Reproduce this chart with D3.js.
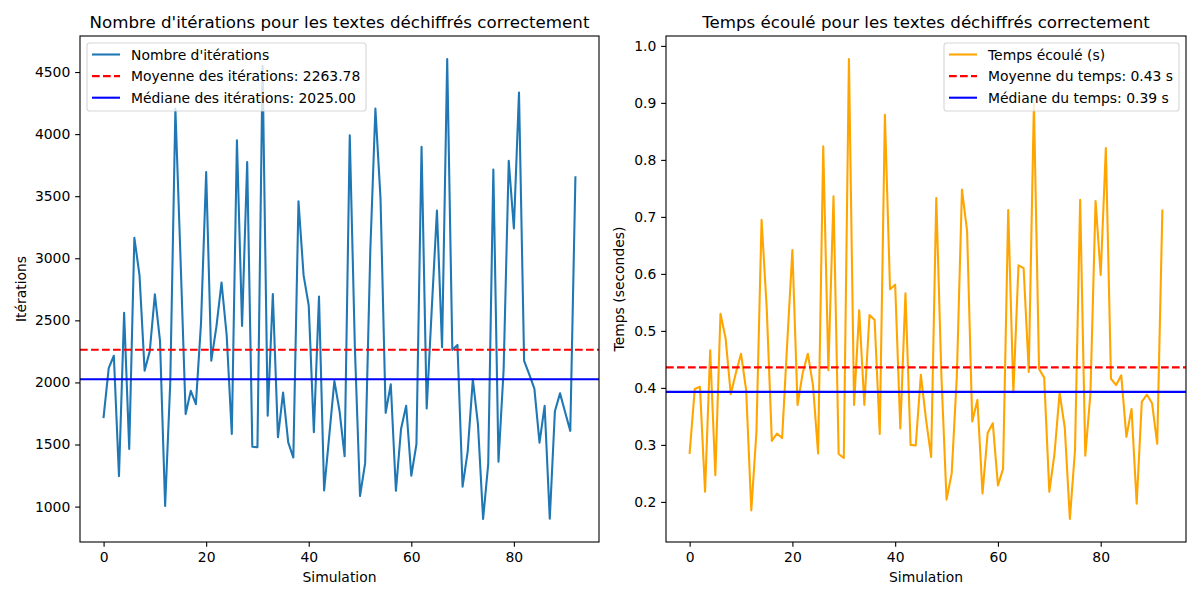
<!DOCTYPE html>
<html><head><meta charset="utf-8">
<script src="https://cdn.jsdelivr.net/npm/d3@7"></script>
<style>body{margin:0;background:#fff}svg{display:block}text{font-family:"DejaVu Sans",sans-serif;fill:#000}</style>
</head><body><svg id="c" width="1200" height="600"></svg>
<script>
const simulations = d3.range(93);
const iterations = [1720,2115,2215,1245,2560,1465,3165,2865,2095,2250,
 2710,2335,1005,2000,4205,3000,1745,1932,1825,2480,
 3695,2175,2450,2805,2380,1585,3950,2455,3775,1482,
 1478,4550,1732,2712,1558,1918,1517,1395,3458,2862,
 2620,1600,2692,1130,1570,2012,1772,1405,3990,2280,
 1085,1350,3050,4205,3480,1755,1985,1127,1625,1812,
 1248,1502,3898,1790,2600,3385,2283,4605,2262,2302,
 1160,1445,2025,1662,900,1343,3715,1362,2100,3785,
 3240,4335,2173,2065,1950,1515,1812,902,1768,1912,
 1760,1610,3652];
const times = [0.286,0.398,0.402,0.218,0.466,0.247,0.530,0.487,0.389,0.426,
 0.460,0.396,0.185,0.323,0.695,0.540,0.307,0.320,0.312,0.480,
 0.642,0.370,0.426,0.460,0.405,0.285,0.824,0.431,0.736,0.284,
 0.277,0.977,0.370,0.536,0.370,0.528,0.519,0.319,0.879,0.573,
 0.581,0.329,0.566,0.300,0.299,0.423,0.345,0.279,0.733,0.420,
 0.204,0.250,0.420,0.748,0.675,0.341,0.379,0.215,0.321,0.338,
 0.229,0.258,0.712,0.392,0.615,0.610,0.428,0.900,0.433,0.418,
 0.218,0.284,0.391,0.331,0.170,0.291,0.730,0.281,0.390,0.728,
 0.598,0.821,0.416,0.405,0.422,0.314,0.363,0.197,0.376,0.388,
 0.373,0.302,0.711];
const meanIter = 2263.78, medianIter = 2025.00;
const meanTime = 0.436, medianTime = 0.393;
const xTicks = [0,20,40,60,80];
const iterTicks = [1000,1500,2000,2500,3000,3500,4000,4500];
const timeTicks = [0.2,0.3,0.4,0.5,0.6,0.7,0.8,0.9,1.0];
const titles = ["Nombre d'itérations pour les textes déchiffrés correctement","Temps écoulé pour les textes déchiffrés correctement"];
const yLabels = ["Itérations","Temps (secondes)"];
const xLabel = "Simulation";
const legendIter = ["Nombre d'itérations","Moyenne des itérations: 2263.78","Médiane des itérations: 2025.00"];
const legendTime = ["Temps écoulé (s)","Moyenne du temps: 0.43 s","Médiane du temps: 0.39 s"];

const svg = d3.select("#c");
const FS = 13.9, LW = 2.08, TICK = 4.86;

function panel(cfg){
  const {x0,x1,y0,y1,data,color,mean,median,yTicks,fmt,title,ylab,ylabX,legend,legendRight} = cfg;
  const g = svg.append("g");
  const pad = (d) => { const [a,b]=d3.extent(d); const m=(b-a)*0.05; return [a-m,b+m]; };
  const x = d3.scaleLinear().domain(pad(simulations)).range([x0,x1]);
  const y = d3.scaleLinear().domain(pad(data)).range([y1,y0]);
  const clipId = "clip"+x0;
  svg.append("clipPath").attr("id",clipId).append("rect").attr("x",x0).attr("y",y0).attr("width",x1-x0).attr("height",y1-y0);
  const plot = g.append("g").attr("clip-path",`url(#${clipId})`);
  plot.append("path").datum(data).attr("fill","none").attr("stroke",color).attr("stroke-width",LW)
    .attr("stroke-linejoin","round").attr("stroke-linecap","square")
    .attr("d",d3.line().x((d,i)=>x(simulations[i])).y(d=>y(d)));
  plot.append("line").attr("x1",x0).attr("x2",x1).attr("y1",y(mean)).attr("y2",y(mean))
    .attr("stroke","red").attr("stroke-width",LW).attr("stroke-dasharray","7.7,3.3");
  plot.append("line").attr("x1",x0).attr("x2",x1).attr("y1",y(median)).attr("y2",y(median))
    .attr("stroke","blue").attr("stroke-width",LW);
  const ax = g.append("g").attr("transform",`translate(0,${y1})`)
    .call(d3.axisBottom(x).tickValues(xTicks).tickSize(TICK).tickPadding(4.86).tickFormat(d3.format("d")));
  const ay = g.append("g").attr("transform",`translate(${x0},0)`)
    .call(d3.axisLeft(y).tickValues(yTicks).tickSize(TICK).tickPadding(4.86).tickFormat(fmt));
  [ax,ay].forEach(a=>{a.select(".domain").remove();
    a.selectAll(".tick line").attr("stroke","#000").attr("stroke-width",1.1);
    a.selectAll(".tick text").attr("font-size",FS).attr("font-family","DejaVu Sans").attr("fill","#000");});
  g.append("rect").attr("x",x0).attr("y",y0).attr("width",x1-x0).attr("height",y1-y0)
    .attr("fill","none").attr("stroke","#000").attr("stroke-width",1.1);
  g.append("text").attr("x",(x0+x1)/2).attr("y",y0-8.3).attr("text-anchor","middle").attr("font-size",16.67).text(title);
  g.append("text").attr("x",(x0+x1)/2).attr("y",582).attr("text-anchor","middle").attr("font-size",FS).text(xLabel);
  g.append("text").attr("transform",`translate(${ylabX},${(y0+y1)/2}) rotate(-90)`).attr("text-anchor","middle").attr("font-size",FS).text(ylab);
  const lw = legend.w, lx = legendRight ? x1-7-lw : x0+7, ly = y0+7;
  const lg = g.append("g");
  lg.append("rect").attr("x",lx).attr("y",ly).attr("width",lw).attr("height",68).attr("rx",2.8)
    .attr("fill","#fff").attr("fill-opacity",0.8).attr("stroke","#ccc").attr("stroke-opacity",0.8).attr("stroke-width",1.1);
  const styles = [[color,null],["red","7.7,3.3"],["blue",null]];
  legend.labels.forEach((t,i)=>{
    const cy = ly+11.5+21.6*i;
    lg.append("line").attr("x1",lx+5).attr("x2",lx+33).attr("y1",cy).attr("y2",cy)
      .attr("stroke",styles[i][0]).attr("stroke-width",LW).attr("stroke-dasharray",styles[i][1]);
    lg.append("text").attr("x",lx+44).attr("y",cy+5).attr("font-size",FS).text(t);
  });
}
panel({x0:80,x1:599,y0:36,y1:542,data:iterations,color:"#1f77b4",mean:meanIter,median:medianIter,
  yTicks:iterTicks,fmt:d3.format("d"),title:titles[0],ylab:yLabels[0],ylabX:26,
  legend:{labels:legendIter,w:279},legendRight:false});
panel({x0:666,x1:1186,y0:36,y1:542,data:times,color:"orange",mean:meanTime,median:medianTime,
  yTicks:timeTicks,fmt:d3.format(".1f"),title:titles[1],ylab:yLabels[1],ylabX:624,
  legend:{labels:legendTime,w:235},legendRight:true});
</script></body></html>
